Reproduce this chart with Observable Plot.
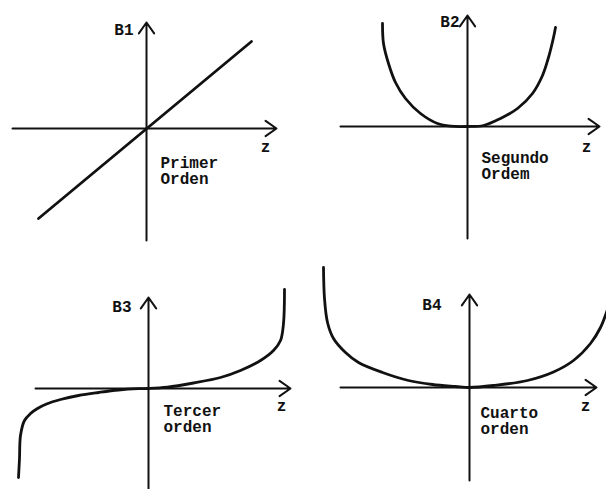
<!DOCTYPE html>
<html>
<head>
<meta charset="utf-8">
<script src="https://cdn.jsdelivr.net/npm/d3@7"></script>
<script src="https://cdn.jsdelivr.net/npm/@observablehq/plot@0.6"></script>
<style>
  html, body { margin: 0; padding: 0; background: #fff; }
  #figure { position: relative; width: 606px; height: 489px; overflow: hidden; background: #fff; }
  #figure > div, #figure > svg { position: absolute; }
</style>
</head>
<body>
<div id="figure"></div>
<script>
// ---- Data (z in arbitrary units, B in arbitrary units) ----

// B1: primer orden (linear)
const z1 = [-1.08, 1.05];
const b1 = [-0.90, 0.87];

// B2: segundo orden
const z2 = [-0.85, -0.84, -0.79, -0.72, -0.62, -0.47, -0.30, -0.17, 0, 0.16, 0.33, 0.50, 0.65, 0.75, 0.81, 0.86, 0.88];
const b2 = [1.03, 0.83, 0.63, 0.44, 0.28, 0.13, 0.03, 0.003, 0, 0.01, 0.08, 0.18, 0.33, 0.51, 0.69, 0.89, 0.99];

// B3: tercer orden
const z3 = [-1.30, -1.29, -1.28, -1.24, -1.18, -1.11, -1.02, -0.88, -0.70, -0.50, -0.30, -0.10, 0,
            0.19, 0.45, 0.72, 0.92, 1.12, 1.25, 1.32, 1.35, 1.36];
const b3 = [-0.89, -0.70, -0.47, -0.32, -0.25, -0.20, -0.155, -0.11, -0.07, -0.04, -0.015, -0.002, 0,
            0.013, 0.055, 0.11, 0.18, 0.28, 0.38, 0.48, 0.65, 0.99];

// B4: cuarto orden
const z4 = [-1.46, -1.45, -1.42, -1.36, -1.24, -1.11, -0.87, -0.61, -0.37, -0.14, 0,
            0.24, 0.58, 0.84, 1.04, 1.21, 1.31, 1.38];
const b4 = [1.20, 0.89, 0.65, 0.49, 0.35, 0.25, 0.15, 0.07, 0.03, 0.01, 0,
            0.02, 0.07, 0.155, 0.27, 0.44, 0.60, 0.78];

// Axis extents [start, end] for each panel (z axis, B axis)
const zAxis = [[-1.34, 1.30], [-1.27, 1.32], [-1.13, 1.42], [-1.29, 1.27]];
const bAxis = [[-1.12, 1.06], [-1.12, 1.11], [-1.00, 0.91], [-0.93, 0.93]];

// Text
const yNames = ["B1", "B2", "B3", "B4"];
const xName = "z";
const orderText = [["Primer", "Orden"], ["Segundo", "Ordem"], ["Tercer", "orden"], ["Cuarto", "orden"]];

// ---- Layout ----
const PX = 100; // pixels per unit
const FONT = "'Liberation Mono', 'Courier New', monospace";
const INK = "#111";

const panels = [
  {left: 0,   top: 0,   w: 303, h: 244, ox: 146, oy: 128, z: z1, b: b1,
   yLab: [-0.13, 0.99], zLab: [1.19, -0.18], ordLab: [0.14, -0.34], curve: "linear"},
  {left: 303, top: 0,   w: 303, h: 244, ox: 164, oy: 126, z: z2, b: b2,
   yLab: [-0.08, 1.05], zLab: [1.19, -0.20], ordLab: [0.14, -0.31], curve: "catmull-rom"},
  {left: 0,   top: 244, w: 303, h: 245, ox: 148, oy: 144, z: z3, b: b3,
   yLab: [-0.17, 0.82], zLab: [1.33, -0.17], ordLab: [0.15, -0.22], curve: "catmull-rom"},
  {left: 303, top: 244, w: 303, h: 245, ox: 166, oy: 143, z: z4, b: b4,
   yLab: [-0.28, 0.83], zLab: [1.16, -0.18], ordLab: [0.11, -0.25], curve: "catmull-rom"}
];

const LINE = 0.165; // spacing between the two lines of the order label, in units

const textStyle = {fill: INK, fontFamily: FONT, fontWeight: "bold", fontSize: 16, lineAnchor: "middle"};

const fig = document.getElementById("figure");

panels.forEach((p, i) => {
  const pts = p.z.map((z, k) => ({z, b: p.b[k]}));
  const axes = [
    {x1: zAxis[i][0], y1: 0, x2: zAxis[i][1], y2: 0},
    {x1: 0, y1: bAxis[i][0], x2: 0, y2: bAxis[i][1]}
  ];
  const yLabel = [{x: p.yLab[0], y: p.yLab[1], t: yNames[i]}];
  const zLabel = [{x: p.zLab[0], y: p.zLab[1], t: xName}];
  const orderLabel = orderText[i].map((t, k) => ({x: p.ordLab[0], y: p.ordLab[1] - k * LINE, t}));

  const chart = Plot.plot({
    width: p.w,
    height: p.h,
    margin: 0,
    x: {domain: [-p.ox / PX, (p.w - p.ox) / PX], axis: null},
    y: {domain: [-(p.h - p.oy) / PX, p.oy / PX], axis: null},
    style: {background: "#fff", overflow: "hidden"},
    marks: [
      Plot.arrow(axes, {
        x1: "x1", y1: "y1", x2: "x2", y2: "y2",
        stroke: INK, strokeWidth: 2, headLength: 10, headAngle: 70
      }),
      Plot.line(pts, {x: "z", y: "b", stroke: INK, strokeWidth: 2.8, curve: p.curve}),
      Plot.text(yLabel, {x: "x", y: "y", text: "t", textAnchor: "end", ...textStyle}),
      Plot.text(zLabel, {x: "x", y: "y", text: "t", textAnchor: "middle", ...textStyle}),
      Plot.text(orderLabel, {x: "x", y: "y", text: "t", textAnchor: "start", ...textStyle})
    ]
  });
  chart.style.left = p.left + "px";
  chart.style.top = p.top + "px";
  fig.appendChild(chart);
});
</script>
</body>
</html>
